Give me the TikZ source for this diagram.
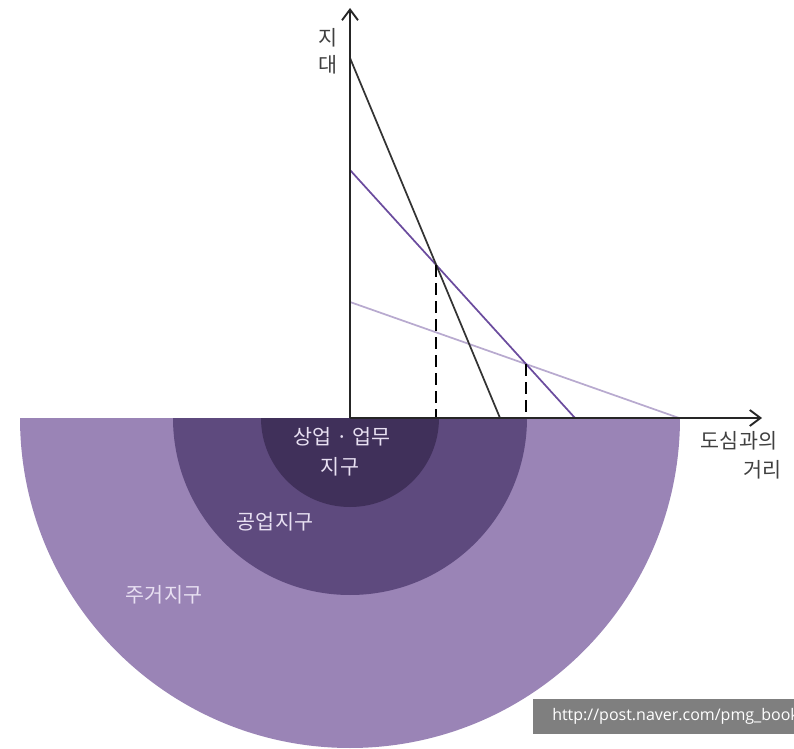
\documentclass[tikz,border=0pt]{standalone}
\usepackage{fontspec}
\newfontfamily\kr{Noto Sans CJK KR}
\newfontfamily\wm{Open Sans}
\usetikzlibrary{arrows.meta,intersections}
\definecolor{outerc}{HTML}{9A84B6}
\definecolor{midc}{HTML}{5E4A7E}
\definecolor{innerc}{HTML}{40305A}
\definecolor{purpleline}{HTML}{6B4C9E}
\definecolor{lightline}{HTML}{B8AACF}
\definecolor{darkline}{HTML}{333333}
\definecolor{axistext}{HTML}{404040}
\definecolor{zonetext}{HTML}{E8E0F2}
\definecolor{wmgrey}{HTML}{7F7F7F}
\tikzset{
  axisline/.style={line width=1.6pt, color=black!85, -{Straight Barb[length=8pt,width=12pt,line width=1.4pt]}},
  rentline/.style={line width=1.3pt},
  dropline/.style={line width=1.5pt, black, dash pattern=on 9pt off 4.5pt},
  axislabel/.style={font=\kr\fontsize{15.5}{19}\selectfont, text=axistext, inner sep=0pt},
  zonelabel/.style={font=\kr\fontsize{15.5}{19}\selectfont, text=zonetext, inner sep=0pt, align=center},
}
\begin{document}
\begin{tikzpicture}[x=0.75pt,y=-0.75pt]
\useasboundingbox (0,0) rectangle (794,749);
% zones
\fill[outerc] (20,418) arc[start angle=180,end angle=0,radius=330] -- cycle;
\fill[midc] (173,418) arc[start angle=180,end angle=0,radius=177] -- cycle;
\fill[innerc] (261,418) arc[start angle=180,end angle=0,radius=89] -- cycle;
% axes
\coordinate (O) at (350,418);
\coordinate (ytop) at (350,8);
\coordinate (xend) at (762,418);
% bid-rent lines
\coordinate (a1) at (350,58);
\coordinate (a2) at (500,418);
\coordinate (b1) at (350,170);
\coordinate (b2) at (575,418);
\coordinate (c1) at (350,302);
\coordinate (c2) at (679,418);
\draw[rentline, lightline, name path=lc] (c1) -- (c2);
\draw[rentline, purpleline, name path=pc] (b1) -- (b2);
\draw[rentline, darkline, name path=dc] (a1) -- (a2);
\path[name intersections={of=dc and pc, by=i1}];
\path[name intersections={of=pc and lc, by=i2}];
\coordinate (f1) at (i1 |- O);
\coordinate (f2) at (i2 |- O);
\draw[dropline] (i1) -- (f1);
\draw[dropline] (i2) -- (f2);
\draw[axisline] (O) -- (ytop);
\draw[axisline] (O) -- (xend);
% axis labels
\node[axislabel] (yl1) at (328,38) {지};
\node[axislabel] (yl2) at (328,65) {대};
\node[axislabel] (xl1) at (739,441) {도심과의};
\node[axislabel, anchor=east] (xl2) at (782,470) {거리};
% zone labels
\node[zonelabel] (z1) at (342,437) {상업 · 업무};
\node[zonelabel] (z1b) at (340,467) {지구};
\node[zonelabel] (z2) at (275,522) {공업지구};
\node[zonelabel] (z3) at (164,595) {주거지구};
% watermark
\begin{scope}
\clip (533,699) rectangle (794,734);
\fill[wmgrey] (533,699) rectangle (794,734);
\node[anchor=west, inner sep=0pt, text=white, font=\wm\fontsize{12}{14}\selectfont] (wm) at (552,716.5) {http://post.naver.com/pmg\_book};
\end{scope}
\end{tikzpicture}
\end{document}
